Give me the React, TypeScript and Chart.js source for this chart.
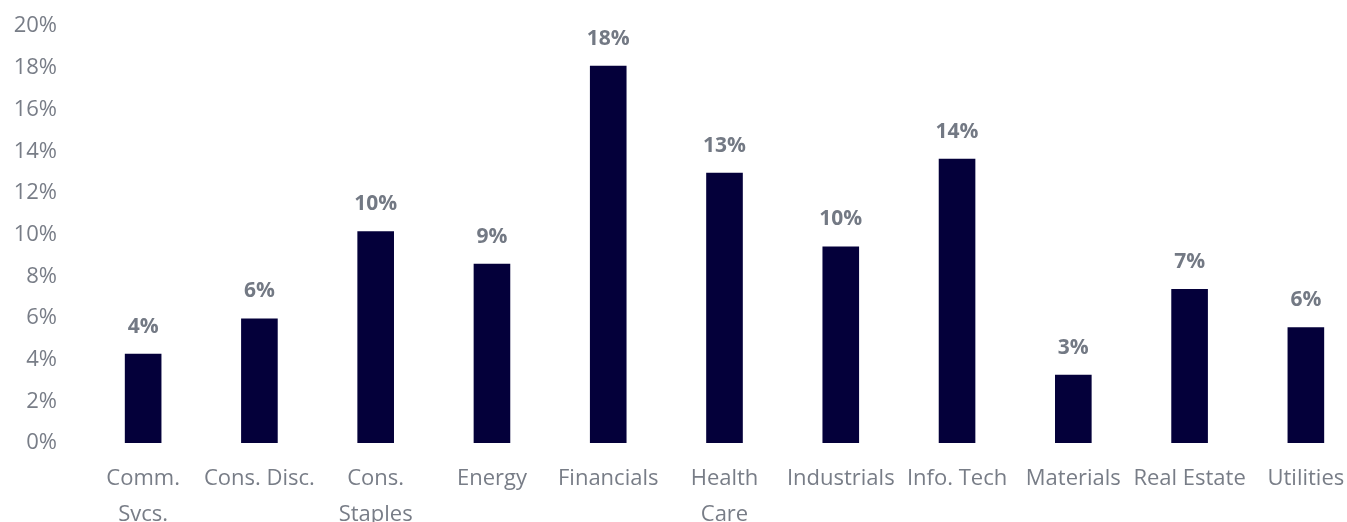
import { useEffect, useRef } from 'react';
import { Chart, registerables, ChartConfiguration, Plugin } from 'chart.js';

Chart.register(...registerables);

// sector names, split onto two lines where the original wraps
const sectors: (string | string[])[] = [
  ['Comm.', 'Svcs.'],
  'Cons. Disc.',
  ['Cons.', 'Staples'],
  'Energy',
  'Financials',
  ['Health', 'Care'],
  'Industrials',
  'Info. Tech',
  'Materials',
  'Real Estate',
  'Utilities',
];

// weights in percent
const weights = [4.28, 5.98, 10.16, 8.6, 18.1, 12.97, 9.43, 13.64, 3.28, 7.39, 5.55];

// labels printed above each bar
const barLabels = ['4%', '6%', '10%', '9%', '18%', '13%', '10%', '14%', '3%', '7%', '6%'];

const FONT = '"Open Sans", sans-serif';
const GREY = '#787d87';
const NAVY = '#04003a';

const valueLabels: Plugin<'bar'> = {
  id: 'valueLabels',
  afterDatasetsDraw(chart) {
    const ctx = chart.ctx;
    const meta = chart.getDatasetMeta(0);
    ctx.save();
    ctx.font = `bold 21px ${FONT}`;
    ctx.fillStyle = '#737984';
    ctx.textAlign = 'center';
    ctx.textBaseline = 'middle';
    meta.data.forEach((bar, i) => {
      ctx.fillText(barLabels[i], bar.x, bar.y - 27);
    });
    ctx.restore();
  },
};

export default function App() {
  const canvasRef = useRef<HTMLCanvasElement>(null);

  useEffect(() => {
    if (!canvasRef.current) return;

    const config: ChartConfiguration<'bar'> = {
      type: 'bar',
      data: {
        labels: sectors,
        datasets: [
          {
            data: weights,
            backgroundColor: NAVY,
            categoryPercentage: 1,
            barPercentage: 0.315,
          },
        ],
      },
      options: {
        animation: false,
        responsive: true,
        maintainAspectRatio: false,
        layout: { autoPadding: false, padding: 0 },
        plugins: {
          legend: { display: false },
          tooltip: { enabled: false },
        },
        scales: {
          x: {
            grid: { display: false, drawTicks: false },
            border: { display: false },
            ticks: {
              color: GREY,
              font: { family: FONT, size: 22, lineHeight: 1.64 },
              padding: 18,
              maxRotation: 0,
              autoSkip: false,
            },
            afterFit(scale) {
              scale.height = 79;
            },
          },
          y: {
            min: 0,
            max: 20,
            grid: { display: false, drawTicks: false },
            border: { display: false },
            ticks: {
              stepSize: 2,
              color: GREY,
              font: { family: FONT, size: 22 },
              padding: 28,
              callback: (v) => `${v}%`,
            },
            afterFit(scale) {
              scale.width = 85;
            },
          },
        },
      },
      plugins: [valueLabels],
    };

    const chart = new Chart(canvasRef.current, config);
    return () => chart.destroy();
  }, []);

  return (
    <div style={{ position: 'fixed', left: 0, top: 0, width: 1347, height: 522, overflow: 'hidden', background: '#fff' }}>
      <div style={{ position: 'absolute', left: 0, top: -15, width: 1364, height: 537 }}>
        <canvas ref={canvasRef} />
      </div>
    </div>
  );
}
